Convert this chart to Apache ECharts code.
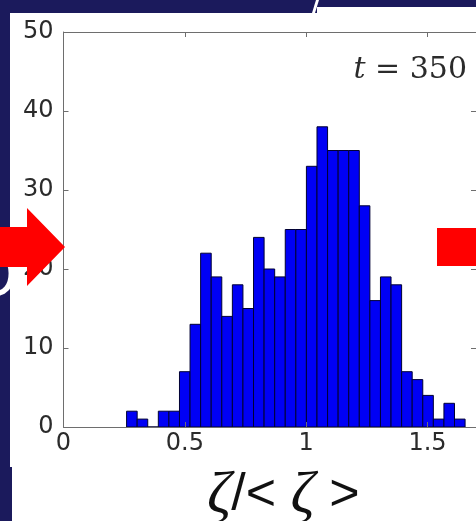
<!DOCTYPE html>
<html>
<head>
<meta charset="utf-8">
<script src="https://cdn.jsdelivr.net/npm/echarts@6/dist/echarts.min.js"></script>
<style>
  html, body { margin: 0; padding: 0; background: #1b1a5c; }
  #chart { width: 476px; height: 521px; }
</style>
</head>
<body>
<div id="chart"></div>
<script>
// Histogram of zeta / <zeta> at t = 350
const binLo = 0.260;          // left edge of the first bin
const binHi = 1.655;          // right edge of the last bin
const counts = [2, 1, 0, 2, 2, 7, 13, 22, 19, 14, 18, 15, 24, 20, 19, 25,
                25, 33, 38, 35, 35, 35, 28, 16, 19, 18, 7, 6, 4, 1, 3, 1];
const xTicks = [0, 0.5, 1, 1.5];
const yTicks = [0, 10, 20, 30, 40, 50];
const annotation = '= 350';

const binWidth = (binHi - binLo) / counts.length;
const bins = counts.map((c, i) => [binLo + i * binWidth, binLo + (i + 1) * binWidth, c]);

const chart = echarts.init(document.getElementById('chart'));

const axisLine = { show: true, onZero: false, lineStyle: { color: '#6e6e6e', width: 1 } };
const tickStyle = { show: true, inside: true, length: 5, lineStyle: { color: '#6e6e6e', width: 1 } };
const labelFont = { fontFamily: 'DejaVu Sans', fontSize: 24, color: '#2b2b2b' };

chart.setOption({
  backgroundColor: '#1b1a5c',
  animation: false,
  grid: { left: 63.5, top: 32, right: -1, bottom: 94, containLabel: false },
  xAxis: [
    {
      type: 'value', position: 'bottom', min: xTicks[0], max: 1.7, interval: 0.5, z: 6,
      axisLine: axisLine, axisTick: tickStyle, splitLine: { show: false },
      axisLabel: Object.assign({ margin: 5, showMaxLabel: false,
        formatter: v => xTicks.includes(v) ? String(v) : '' }, labelFont)
    },
    {
      type: 'value', position: 'top', min: xTicks[0], max: 1.7, interval: 0.5, z: 6,
      axisLine: axisLine, axisTick: tickStyle, splitLine: { show: false },
      axisLabel: { show: false }
    }
  ],
  yAxis: [
    {
      type: 'value', position: 'left', min: yTicks[0], max: yTicks[yTicks.length - 1], interval: 10, z: 6,
      axisLine: axisLine, axisTick: tickStyle, splitLine: { show: false },
      axisLabel: Object.assign({ margin: 10 }, labelFont)
    },
    {
      type: 'value', position: 'right', min: yTicks[0], max: yTicks[yTicks.length - 1], interval: 10, z: 6,
      axisLine: axisLine, axisTick: tickStyle, splitLine: { show: false },
      axisLabel: { show: false }
    }
  ],
  graphic: [
    // clipped white letter from the slide text on the left edge
    { type: 'text', z: 0, left: -32, top: 246,
      style: { text: 'O', fill: '#ffffff', font: '64px "Liberation Sans"' } },
    // white panel behind the plot
    { type: 'rect', z: 1, shape: { x: 10, y: 13, width: 470, height: 520 }, style: { fill: '#ffffff' } },
    { type: 'rect', z: 1, shape: { x: 317, y: 7, width: 170, height: 10 }, style: { fill: '#ffffff' } },
    { type: 'rect', z: 1, shape: { x: 0, y: 467, width: 12, height: 60 }, style: { fill: '#1b1a5c' } },
    // white stroke of a glyph above the panel
    { type: 'polygon', z: 1, shape: { points: [[316, 0], [319, 0], [315, 13], [312, 13]] }, style: { fill: '#ffffff' } },
    // annotation
    { type: 'text', z: 10, right: 9, top: 55,
      style: {
        text: '{i|t}{n| ' + annotation + '}',
        rich: {
          i: { font: 'italic 30px "DejaVu Serif"', fill: '#2b2b2b' },
          n: { font: '30px "DejaVu Serif"', fill: '#2b2b2b' }
        }
      } },
    // x axis title
    { type: 'text', z: 10, left: 207, top: 466,
      style: {
        text: '{z|ζ}{s|/< }{z|ζ}{s| >}',
        rich: {
          z: { font: 'italic 60px "Liberation Serif"', fill: '#111111' },
          s: { font: '52px "Liberation Sans"', fill: '#111111' }
        }
      } },
    // red arrows
    { type: 'polygon', z: 20,
      shape: { points: [[-2, 227], [27, 227], [27, 208], [65, 247], [27, 286], [27, 267], [-2, 267]] },
      style: { fill: '#ff0000' } },
    { type: 'rect', z: 20, shape: { x: 437, y: 228, width: 45, height: 38 }, style: { fill: '#ff0000' } }
  ],
  series: [
    {
      type: 'custom',
      z: 5,
      data: bins,
      clip: true,
      renderItem: function (params, api) {
        const p0 = api.coord([api.value(0), 0]);
        const p1 = api.coord([api.value(1), api.value(2)]);
        return {
          type: 'rect',
          shape: { x: p0[0], y: p1[1], width: p1[0] - p0[0], height: p0[1] - p1[1] },
          style: { fill: '#0000f5', stroke: '#000033', lineWidth: 1 }
        };
      }
    }
  ]
});
</script>
</body>
</html>
